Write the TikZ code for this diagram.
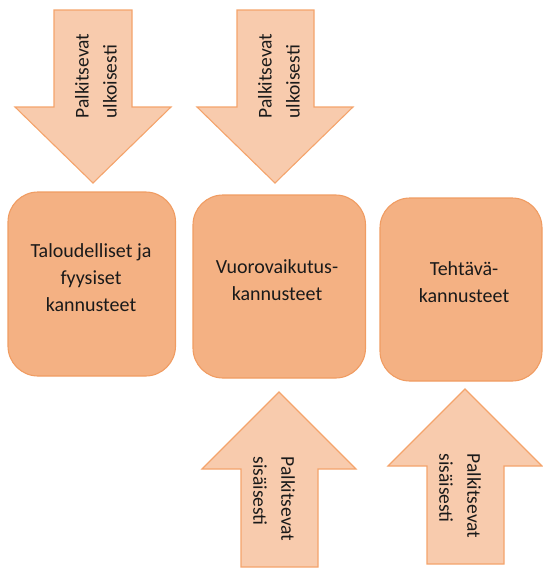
\documentclass[tikz,border=0pt]{standalone}
\usepackage{fontspec}
\setmainfont{Carlito}
\definecolor{arrowfill}{HTML}{F8CBAD}
\definecolor{arrowline}{HTML}{F4A46C}
\definecolor{boxfill}{HTML}{F4B183}
\definecolor{boxline}{HTML}{F09C62}
\definecolor{txt}{HTML}{1A1A1A}
\tikzset{
  blockarrow/.style={fill=arrowfill, draw=arrowline, line width=1.1pt, line join=miter},
  motivebox/.style={fill=boxfill, draw=boxline, line width=1.1pt, rounded corners=30pt},
  boxtext/.style={align=center, text=txt, font=\fontsize{20}{27}\selectfont},
  arrowtext/.style={align=left, text=txt, font=\fontsize{19.5}{28}\selectfont},
}
\begin{document}
\begin{tikzpicture}[x=1pt,y=-1pt]
\useasboundingbox (0,0) rectangle (543,568);

% downward arrows (external rewards)
\draw[blockarrow] (54,10) -- (132,10) -- (132,107) -- (171,107) -- (93,183)
  -- (15,107) -- (54,107) -- cycle;
\draw[blockarrow] (237,10) -- (314,10) -- (314,107) -- (353,107) -- (275,183)
  -- (197,107) -- (237,107) -- cycle;

% upward arrows (internal rewards)
\draw[blockarrow] (241,567) -- (318,567) -- (318,469) -- (356,469) -- (279,392)
  -- (202,469) -- (241,469) -- cycle;
\draw[blockarrow] (427,564) -- (504,564) -- (504,466) -- (542,466) -- (465,389)
  -- (388,466) -- (427,466) -- cycle;

% motive boxes
\draw[motivebox] (8,192) rectangle (175.5,376);
\draw[motivebox] (193,195) rectangle (365.5,378);
\draw[motivebox] (380,198) rectangle (542,381);

\node[boxtext] (t1) at (91,278) {Taloudelliset ja\\fyysiset\\kannusteet};
\node[boxtext] (t2) at (277,280) {Vuorovaikutus-\\kannusteet};
\node[boxtext] (t3) at (464,282) {Tehtävä-\\kannusteet};

% arrow labels
\node[arrowtext, rotate=90] (a1) at (96,76) {Palkitsevat\\ulkoisesti};
\node[arrowtext, rotate=90] (a2) at (279,76) {Palkitsevat\\ulkoisesti};
\node[arrowtext, rotate=-90] (a3) at (274,499) {Palkitsevat\\sisäisesti};
\node[arrowtext, rotate=-90] (a4) at (460,496) {Palkitsevat\\sisäisesti};
\end{tikzpicture}
\end{document}
